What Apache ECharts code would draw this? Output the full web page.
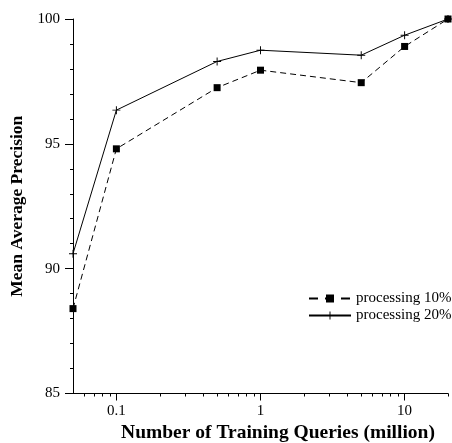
<!DOCTYPE html>
<html>
<head>
<meta charset="utf-8">
<script src="https://cdn.jsdelivr.net/npm/echarts@6/dist/echarts.min.js"></script>
<style>
  html, body { margin: 0; padding: 0; background: #fff; }
  #chart { width: 452px; height: 443px; }
</style>
</head>
<body>
<div id="chart"></div>
<script>
// Training set size (million queries) on a log scale
const queries = [0.05, 0.1, 0.5, 1, 5, 10, 20];
// Mean average precision for each processing ratio
const map10 = [88.4, 94.8, 97.25, 97.95, 97.45, 98.9, 100];
const map20 = [90.6, 96.35, 98.3, 98.75, 98.55, 99.35, 100];
// Axis labels and tick positions
const xMajorTicks = [0.1, 1, 10];
const xMinorTicks = [0.06, 0.07, 0.08, 0.09, 0.2, 0.3, 0.4, 0.5, 0.6, 0.7, 0.8, 0.9,
                     2, 3, 4, 5, 6, 7, 8, 9, 20];
const seriesNames = ['processing 10%', 'processing 20%'];

const FONT = 'Liberation Serif';
const INK = '#000';
const plusPath = 'path://M0,4.4H10V5.6H0Z M4.4,0H5.6V10H4.4Z';

const pairs = (ys) => queries.map((q, i) => [q, ys[i]]);

const chart = echarts.init(document.getElementById('chart'), null, { renderer: 'canvas' });

chart.setOption({
  animation: false,
  backgroundColor: '#fff',
  grid: { left: 73, right: 4, top: 19, bottom: 49.5, containLabel: false, outerBoundsMode: 'none' },
  legend: {
    orient: 'vertical',
    left: 303,
    top: 286,
    itemWidth: 42,
    itemHeight: 10,
    itemGap: 2,
    textStyle: { fontFamily: FONT, fontSize: 15, color: INK },
    data: [
      { name: seriesNames[0], lineStyle: { type: [9, 7] } },
      { name: seriesNames[1] }
    ]
  },
  xAxis: [
    {
      type: 'log',
      logBase: 10,
      min: 0.05,
      max: 20,
      name: 'Number of Training Queries (million)',
      nameLocation: 'middle',
      nameGap: 29,
      nameTextStyle: { fontFamily: FONT, fontSize: 19.5, fontWeight: 'bold', color: INK, padding: [0, 0, 0, 35] },
      axisLine: { lineStyle: { color: INK, width: 1 } },
      axisTick: { show: true, length: 7, customValues: xMajorTicks, lineStyle: { color: INK } },
      axisLabel: { customValues: xMajorTicks, margin: 10, fontFamily: FONT, fontSize: 15, color: INK,
                   formatter: (v) => String(v) },
      splitLine: { show: false }
    },
    {
      type: 'log',
      logBase: 10,
      min: 0.05,
      max: 20,
      position: 'bottom',
      axisLine: { show: false },
      axisTick: { show: true, length: 3, customValues: xMinorTicks, lineStyle: { color: INK } },
      axisLabel: { show: false },
      splitLine: { show: false }
    }
  ],
  yAxis: [
    {
      type: 'value',
      min: 85,
      max: 100,
      interval: 5,
      name: 'Mean Average Precision',
      nameLocation: 'middle',
      nameGap: 47,
      nameTextStyle: { fontFamily: FONT, fontSize: 17.5, fontWeight: 'bold', color: INK },
      axisLine: { show: true, lineStyle: { color: INK, width: 1 } },
      axisTick: { show: true, length: 8, lineStyle: { color: INK } },
      axisLabel: { margin: 13, fontFamily: FONT, fontSize: 15, color: INK },
      splitLine: { show: false }
    },
    {
      type: 'value',
      min: 85,
      max: 100,
      interval: 1,
      position: 'left',
      axisLine: { show: false },
      axisTick: { show: true, length: 3, lineStyle: { color: INK } },
      axisLabel: { show: false },
      splitLine: { show: false }
    }
  ],
  series: [
    {
      name: seriesNames[0],
      type: 'line',
      data: pairs(map10),
      symbol: 'rect',
      symbolSize: 7,
      itemStyle: { color: INK },
      lineStyle: { color: INK, width: 1, type: [6, 4] }
    },
    {
      name: seriesNames[1],
      type: 'line',
      data: pairs(map20),
      symbol: plusPath,
      symbolSize: 8,
      itemStyle: { color: INK },
      lineStyle: { color: INK, width: 1, type: 'solid' }
    }
  ]
});
</script>
</body>
</html>
